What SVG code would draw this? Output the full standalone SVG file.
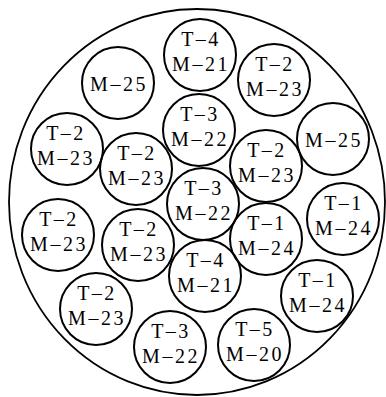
<svg xmlns="http://www.w3.org/2000/svg" width="386" height="397" viewBox="0 0 386 397">
<style>
.c{fill:none;stroke:#000;stroke-width:2}
.o{fill:none;stroke:#000;stroke-width:1.8}
text{font-family:"Liberation Serif","DejaVu Serif",serif;font-size:20px;fill:#000;text-anchor:middle;letter-spacing:2.5px}
</style>
<rect width="386" height="397" fill="#fff"/>
<ellipse class="o" cx="197" cy="202" rx="188" ry="193"/>
<g id="n1"><circle class="c" cx="118" cy="83" r="36"/><text x="119" y="91">M–25</text></g>
<g id="n2"><circle class="c" cx="200" cy="55" r="36"/><text x="201" y="46">T–4</text><text x="201" y="71">M–21</text></g>
<g id="n3"><circle class="c" cx="274" cy="80" r="36"/><text x="275" y="71">T–2</text><text x="275" y="96">M–23</text></g>
<g id="n4"><circle class="c" cx="199" cy="130" r="36"/><text x="200" y="121">T–3</text><text x="200" y="146">M–22</text></g>
<g id="n5"><circle class="c" cx="333" cy="139" r="36"/><text x="334" y="147">M–25</text></g>
<g id="n6"><circle class="c" cx="67" cy="149" r="36"/><text x="66" y="140">T–2</text><text x="66" y="165">M–23</text></g>
<g id="n7"><circle class="c" cx="136" cy="169" r="36"/><text x="137" y="160">T–2</text><text x="137" y="185">M–23</text></g>
<g id="n8"><circle class="c" cx="266" cy="166" r="36"/><text x="267" y="157">T–2</text><text x="267" y="182">M–23</text></g>
<g id="n9"><circle class="c" cx="203" cy="204" r="36"/><text x="204" y="195">T–3</text><text x="204" y="220">M–22</text></g>
<g id="n10"><circle class="c" cx="58" cy="235" r="36"/><text x="59" y="226">T–2</text><text x="59" y="251">M–23</text></g>
<g id="n11"><circle class="c" cx="138" cy="245" r="36"/><text x="139" y="236">T–2</text><text x="139" y="261">M–23</text></g>
<g id="n12"><circle class="c" cx="266" cy="239" r="36"/><text x="267" y="230">T–1</text><text x="267" y="255">M–24</text></g>
<g id="n13"><circle class="c" cx="343" cy="219" r="36"/><text x="344" y="210">T–1</text><text x="344" y="235">M–24</text></g>
<g id="n14"><circle class="c" cx="205" cy="276" r="36"/><text x="206" y="267">T–4</text><text x="206" y="292">M–21</text></g>
<g id="n15"><circle class="c" cx="317" cy="296" r="36"/><text x="318" y="287">T–1</text><text x="318" y="312">M–24</text></g>
<g id="n16"><circle class="c" cx="96" cy="309" r="36"/><text x="97" y="300">T–2</text><text x="97" y="325">M–23</text></g>
<g id="n17"><circle class="c" cx="170" cy="347" r="36"/><text x="171" y="338">T–3</text><text x="171" y="363">M–22</text></g>
<g id="n18"><circle class="c" cx="254" cy="345" r="36"/><text x="255" y="336">T–5</text><text x="255" y="361">M–20</text></g>
<g id="connectors"></g>
</svg>
